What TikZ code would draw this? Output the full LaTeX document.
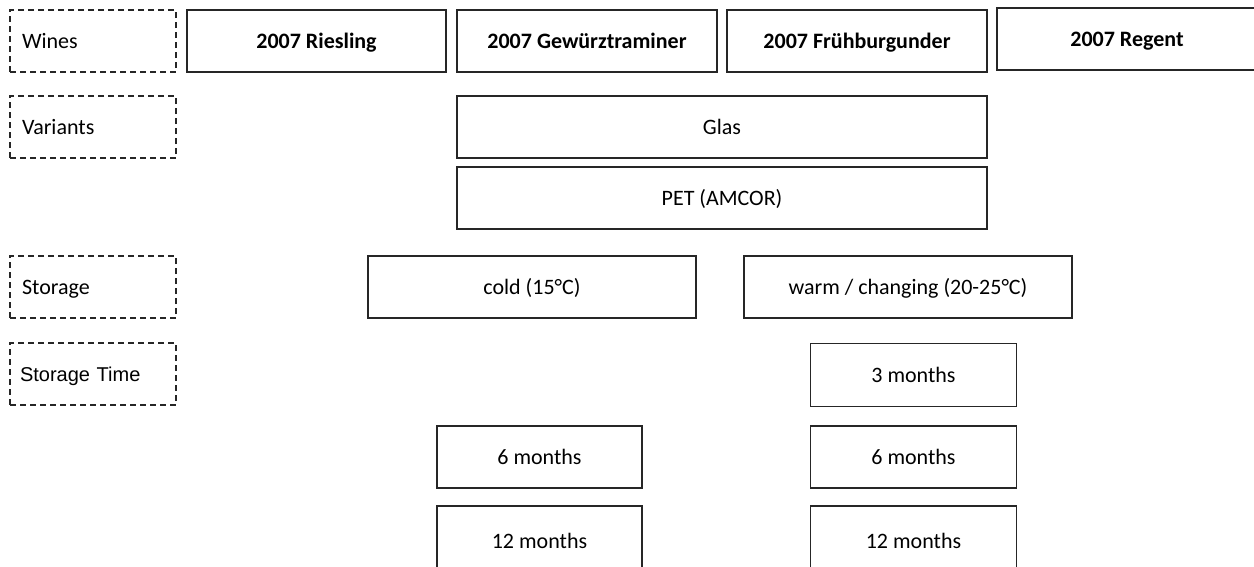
\documentclass[tikz,border=0pt]{standalone}
\usepackage{fontspec}
\setmainfont{Carlito}
\newfontfamily\arialfont{Liberation Sans}
\begin{document}
\begin{tikzpicture}[x=1pt,y=-1pt,
  box/.style={draw=black!85, line width=1.6pt, rectangle, inner sep=0pt, text height=16pt, text depth=2pt, font=\fontsize{22}{26}\selectfont},
  winebox/.style={box, font=\fontsize{22}{26}\selectfont\bfseries},
  lab/.style={draw=black!85, line width=1.5pt, dash pattern=on 6pt off 4pt, rectangle,
    minimum width=166pt, minimum height=62pt, text width=142pt, inner xsep=12pt, inner ysep=0pt, align=left,
    text height=16pt, text depth=2pt, font=\fontsize{22}{26}\selectfont},
  plain/.style={inner sep=0pt, text height=16pt, text depth=2pt, font=\fontsize{22}{26}\selectfont}]
\useasboundingbox (0,0) rectangle (1254,566);
\clip (0,0) rectangle (1254,566);
\fill[white] (0,0) rectangle (1254,566);
% labels
\node[lab] (lwines) at (93,41) {Wines};
\node[lab] (lvar) at (93,127) {Variants};
\node[lab] (lsto) at (93,287) {Storage};
\node[lab, font=\arialfont\fontsize{20}{24}\selectfont, inner xsep=10pt, text width=146pt] (ltime) at (93,374) {Storage Time};
% wines
\node[winebox, minimum width=259pt, minimum height=62pt] (ries) at (316.5,41) {2007 Riesling};
\node[winebox, minimum width=260pt, minimum height=62pt] (gew) at (587,41) {2007 Gewürztraminer};
\node[winebox, minimum width=260pt, minimum height=62pt] (fru) at (857,41) {2007 Frühburgunder};
\node[winebox, minimum width=260pt, minimum height=62pt] (reg) at (1127,39) {2007 Regent};
% variants
\node[box, minimum width=530pt, minimum height=62pt] (glas) at (722,127) {Glas};
\node[box, minimum width=530pt, minimum height=62pt] (pet) at (722,198) {PET (AMCOR)};
% storage
\node[box, minimum width=328pt, minimum height=62pt] (cold) at (532,287) {cold (15°C)};
\node[box, minimum width=328pt, minimum height=62pt] (warm) at (908,287) {warm / changing (20-25°C)};
% storage time
\node[box, minimum width=206pt, minimum height=63pt] (w3) at (913.5,375) {3 months};
\node[box, minimum width=205pt, minimum height=62pt] (c6) at (539.5,457) {6 months};
\node[box, minimum width=206pt, minimum height=62pt] (w6) at (913.5,457) {6 months};
\node[box, minimum width=205pt, minimum height=80pt] (c12) at (539.5,546) {};
\node[box, minimum width=206pt, minimum height=80pt] (w12) at (913.5,546) {};
\node[plain] (c12t) at (539.5,541) {12 months};
\node[plain] (w12t) at (913.5,541) {12 months};
\end{tikzpicture}
\end{document}
